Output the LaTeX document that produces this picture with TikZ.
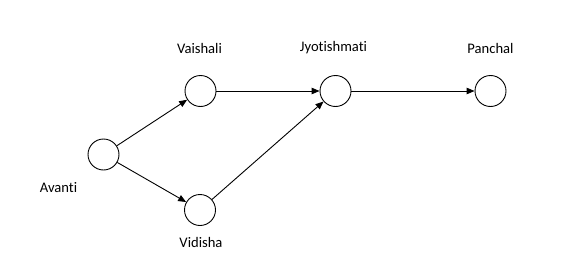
\documentclass[tikz,border=0pt]{standalone}
\usepackage{fontspec}
\setmainfont[RawFeature={-liga;-clig;-dlig}]{Carlito}
\usetikzlibrary{arrows.meta}
\begin{document}
\begin{tikzpicture}[x=1pt,y=-1pt,
  vertex/.style={circle,draw,line width=0.9pt,minimum size=31pt,inner sep=0pt},
  lbl/.style={font=\fontsize{14.6}{17}\selectfont,inner sep=0pt},
  edge/.style={line width=0.9pt,-{Triangle[length=8pt,width=6.5pt]}}]
\useasboundingbox (0,0) rectangle (575,265);
\node[vertex] (avanti) at (103.5,154.5) {};
\node[vertex] (vaishali) at (200.5,91) {};
\node[vertex] (vidisha) at (200,210) {};
\node[vertex] (jyoti) at (335.5,91) {};
\node[vertex] (panchal) at (490.5,91) {};
\node[lbl] (lavanti) at (58.5,188) {Avanti};
\node[lbl] (lvaishali) at (199.5,48) {Vaishali};
\node[lbl] (lvidisha) at (201,242) {Vidisha};
\node[lbl] (ljyoti) at (333.5,48) {Jyotishmati};
\node[lbl] (lpanchal) at (490.5,48) {Panchal};
\draw[edge] (avanti) -- (vaishali);
\draw[edge] (avanti) -- (vidisha);
\draw[edge] (vaishali) -- (jyoti);
\draw[edge] (vidisha) -- (jyoti);
\draw[edge] (jyoti) -- (panchal);
\end{tikzpicture}
\end{document}
